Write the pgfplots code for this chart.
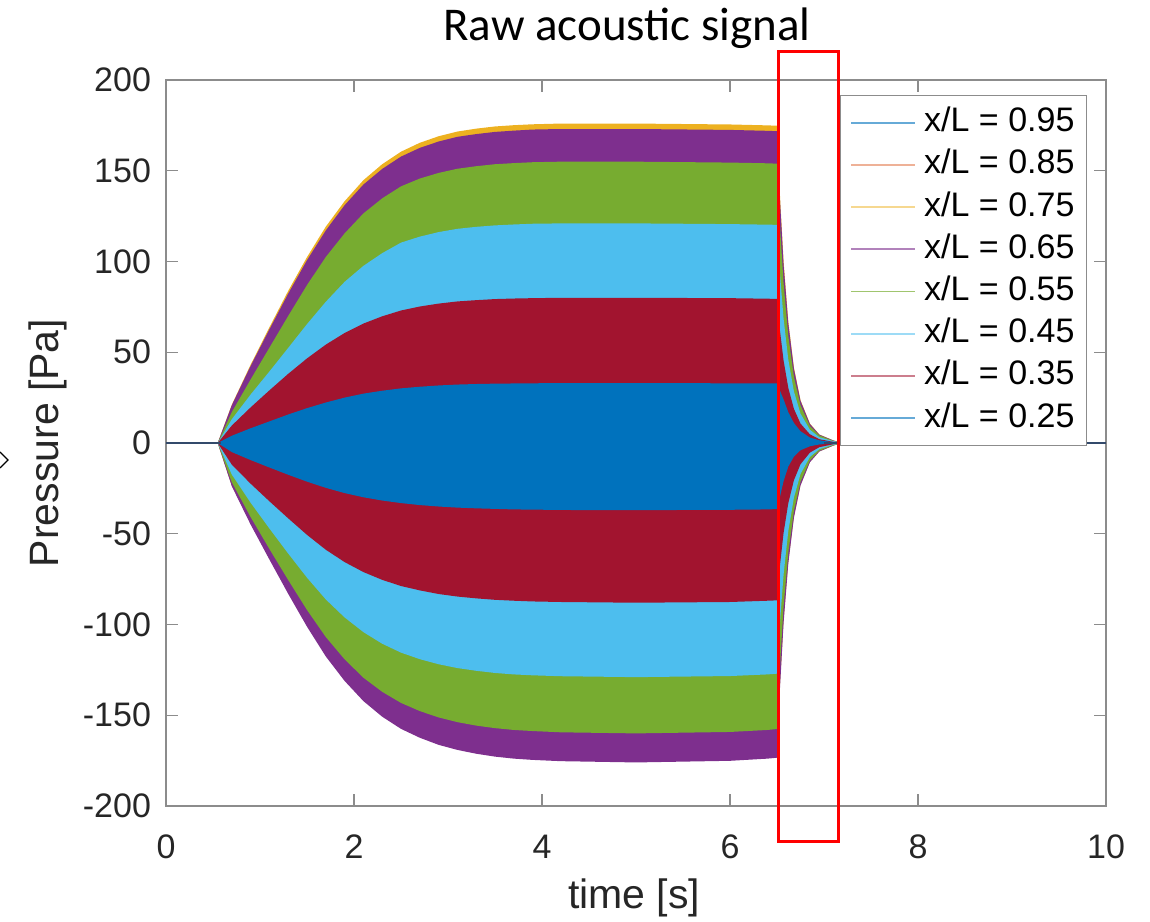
\documentclass[border=0pt]{standalone}
\usepackage{fontspec}
\setmainfont{Liberation Sans}
\newfontfamily\calibri{Carlito}
\usepackage{pgfplots}
\usepgfplotslibrary{fillbetween}
\pgfplotsset{compat=1.18}

\definecolor{mblue}{rgb}{0,0.447,0.741}
\definecolor{morange}{rgb}{0.85,0.325,0.098}
\definecolor{myellow}{rgb}{0.929,0.694,0.125}
\definecolor{mpurple}{rgb}{0.494,0.184,0.556}
\definecolor{mgreen}{rgb}{0.466,0.674,0.188}
\definecolor{mcyan}{rgb}{0.301,0.745,0.933}
\definecolor{mred}{rgb}{0.635,0.078,0.184}
\definecolor{zline}{rgb}{0.2,0.29,0.42}

% envelopes (upper/lower) of each probe signal, Pa
% o = 0.75, p = 0.65, g = 0.55, l = 0.45, r = 0.35, b = 0.25
\pgfplotstableread{
t oU oL pU pL gU gL lU lL rU rL bU bL
0 0 0 0 0 0 0 0 0 0 0 0 0
0.55 0 0 0 0 0 0 0 0 0 0 0 0
0.7 21.1 -23.5 20.8 -23.8 17 -21.6 13.1 -17.4 9.6 -11.9 4.0 -5.0
0.9 43.1 -44.4 42.4 -44.9 35 -40.8 26.7 -32.9 19.6 -22.4 8.1 -9.4
1.1 63.7 -63.5 62.6 -64.2 52.5 -58.4 39.4 -47.1 29.0 -32.1 11.9 -13.5
1.3 83.8 -82.1 82.3 -83.1 70 -75.5 52.4 -60.9 38.1 -41.5 15.7 -17.5
1.5 102.4 -100.1 100.7 -101.2 87 -92.0 65.5 -74.2 46.6 -50.6 19.2 -21.3
1.7 119.2 -116.2 117.1 -117.6 102.5 -106.9 77.8 -86.2 54.2 -58.8 22.3 -24.7
1.9 133.2 -129.6 131.0 -131.1 115.5 -119.2 88.8 -96.1 60.6 -65.6 25.0 -27.6
2.1 144.8 -140.6 142.4 -142.2 126.5 -129.3 97.6 -104.2 65.8 -71.1 27.2 -29.9
2.3 153.6 -149.1 151.0 -150.8 134.8 -137.1 104.6 -110.6 69.8 -75.4 28.8 -31.7
2.5 160.5 -155.7 157.8 -157.5 141.4 -143.2 110.4 -115.5 73.0 -78.8 30.1 -33.1
2.7 165.4 -160.6 162.6 -162.4 145.7 -147.7 113.7 -119.1 75.2 -81.2 31.0 -34.2
2.9 169.0 -164.4 166.1 -166.3 148.8 -151.2 116.2 -121.9 76.8 -83.2 31.7 -35.0
3.1 171.6 -167.2 168.7 -169.1 151.1 -153.8 118.0 -124.0 78.0 -84.6 32.2 -35.6
3.3 173.2 -169.3 170.2 -171.2 152.5 -155.7 119.1 -125.5 78.7 -85.6 32.5 -36.0
3.5 174.4 -170.9 171.4 -172.8 153.6 -157.1 119.9 -126.7 79.3 -86.4 32.7 -36.3
3.7 175.1 -171.9 172.1 -173.9 154.2 -158.1 120.4 -127.5 79.6 -86.9 32.8 -36.6
3.9 175.6 -172.6 172.7 -174.6 154.7 -158.7 120.8 -128.0 79.8 -87.3 32.9 -36.7
4.2 176 -173.3 173 -175.3 155 -159.4 121 -128.5 80 -87.6 33 -36.9
5 176 -174 173 -176 155 -160 121 -129 80 -88 33 -37
6 175.5 -173.1 172.5 -175.1 154.5 -159.2 120.6 -128.4 79.8 -87.6 32.9 -36.8
6.4 175.0 -171.9 172.0 -173.9 154.1 -158.1 120.3 -127.5 79.5 -86.9 32.8 -36.6
6.5 174.8 -171.4 171.8 -173.4 153.9 -157.6 120.2 -127.1 79.4 -86.7 32.8 -36.4
6.53 137.7 -134.6 135.4 -136.5 121.2 -124.0 94.4 -99.9 62.6 -68.2 29 -30
6.57 99.9 -97.6 98.2 -99.0 87.9 -90.0 68.5 -72.5 45.4 -49.5 24 -21
6.62 67.0 -65.5 65.9 -66.4 59.0 -60.4 46.0 -48.6 30.4 -33.2 17 -13
6.68 41.5 -40.5 40.8 -41.1 36.5 -37.4 28.4 -30.1 18.8 -20.5 11 -7.5
6.75 23.6 -23.1 23.2 -23.4 20.8 -21.3 16.2 -17.1 10.7 -11.7 6.5 -4
6.85 10.7 -10.4 10.5 -10.6 9.4 -9.6 7.3 -7.7 4.8 -5.3 3 -1.8
6.95 4.7 -4.6 4.6 -4.7 4.2 -4.3 3.2 -3.4 2.1 -2.3 1.5 -0.8
7.1 1.4 -1.4 1.4 -1.4 1.2 -1.3 1.0 -1.0 0.6 -0.7 0.4 -0.2
7.2 0 0 0 0 0 0 0 0 0 0 0 0
10 0 0 0 0 0 0 0 0 0 0 0 0
}\env

\begin{document}
\begin{tikzpicture}
\begin{axis}[
  scale only axis, width=470pt, height=363pt,
  xmin=0, xmax=10, ymin=-200, ymax=200,
  xtick={0,2,4,6,8,10}, xticklabels={0,2,4,6,8,10},
  ytick={-200,-150,-100,-50,0,50,100,150,200},
  yticklabels={-200,-150,-100,-50,0,50,100,150,200},
  tick align=inside, major tick length=6pt,
  axis line style={black!45, line width=0.6pt},
  tick style={black!45, line width=0.6pt},
  ticklabel style={font=\fontsize{17}{20}\selectfont, text=black!85},
  xticklabel style={yshift=-11pt},
  yticklabel style={xshift=-4pt},
  every axis x label/.style={at={(axis description cs:0.498,-0.127)}, anchor=center,
    font=\fontsize{20.5}{24}\selectfont, text=black!85},
  every axis y label/.style={at={(axis description cs:-0.1255,0.5)}, rotate=90, anchor=center,
    font=\fontsize{20.5}{24}\selectfont, text=black!85},
  xlabel={time [s]}, ylabel={Pressure [Pa]},
  legend image code/.code={\draw[#1] (0pt,0pt) -- (32pt,0pt);},
  legend cell align=left,
  legend style={at={(0.717,0.979)}, anchor=north west, draw=black!45,
    fill=white, font=\fontsize{17}{20}\selectfont, inner xsep=5pt,
    inner ysep=5pt, row sep=4.1pt,
    nodes={inner sep=1pt, text height=12pt, text depth=3pt},
    /tikz/every odd column/.append style={column sep=3pt}},
]
\addplot[draw=none, name path=oU, forget plot] table[x=t,y=oU]{\env};
\addplot[draw=none, name path=oL, forget plot] table[x=t,y=oL]{\env};
\addplot[fill=myellow, draw=none, forget plot] fill between[of=oU and oL];
\addplot[draw=none, name path=pU, forget plot] table[x=t,y=pU]{\env};
\addplot[draw=none, name path=pL, forget plot] table[x=t,y=pL]{\env};
\addplot[fill=mpurple, draw=none, forget plot] fill between[of=pU and pL];
\addplot[draw=none, name path=gU, forget plot] table[x=t,y=gU]{\env};
\addplot[draw=none, name path=gL, forget plot] table[x=t,y=gL]{\env};
\addplot[fill=mgreen, draw=none, forget plot] fill between[of=gU and gL];
\addplot[draw=none, name path=lU, forget plot] table[x=t,y=lU]{\env};
\addplot[draw=none, name path=lL, forget plot] table[x=t,y=lL]{\env};
\addplot[fill=mcyan, draw=none, forget plot] fill between[of=lU and lL];
\addplot[draw=none, name path=rU, forget plot] table[x=t,y=rU]{\env};
\addplot[draw=none, name path=rL, forget plot] table[x=t,y=rL]{\env};
\addplot[fill=mred, draw=none, forget plot] fill between[of=rU and rL];
\addplot[draw=none, name path=bU, forget plot] table[x=t,y=bU]{\env};
\addplot[draw=none, name path=bL, forget plot] table[x=t,y=bL]{\env};
\addplot[fill=mblue, draw=none, forget plot] fill between[of=bU and bL];
\addplot[zline, line width=1.1pt, forget plot] coordinates {(0,0) (0.58,0)};
\addplot[zline, line width=1.1pt, forget plot] coordinates {(7.0,0) (10,0)};

\addlegendimage{mblue!60, line width=0.9pt}\addlegendentry{x/L = 0.95}
\addlegendimage{morange!45, line width=0.9pt}\addlegendentry{x/L = 0.85}
\addlegendimage{myellow!50, line width=0.9pt}\addlegendentry{x/L = 0.75}
\addlegendimage{mpurple!60, line width=0.9pt}\addlegendentry{x/L = 0.65}
\addlegendimage{mgreen!70, line width=0.9pt}\addlegendentry{x/L = 0.55}
\addlegendimage{mcyan!55, line width=0.9pt}\addlegendentry{x/L = 0.45}
\addlegendimage{mred!55, line width=0.9pt}\addlegendentry{x/L = 0.35}
\addlegendimage{mblue!60, line width=0.9pt}\addlegendentry{x/L = 0.25}
\end{axis}
\node[font=\calibri\fontsize{23.5}{28}\selectfont] at (230.5pt,389pt) {Raw acoustic signal};
\draw[red, line width=1.5pt] (306pt,-17.5pt) rectangle (336pt,377pt);
\draw[black, line width=0.6pt] (-83pt,177pt) -- (-79pt,173pt) -- (-83pt,169pt);
\pgfresetboundingbox
\path[use as bounding box] (-83pt,-57.5pt) rectangle (492pt,403pt);
\end{tikzpicture}
\end{document}
